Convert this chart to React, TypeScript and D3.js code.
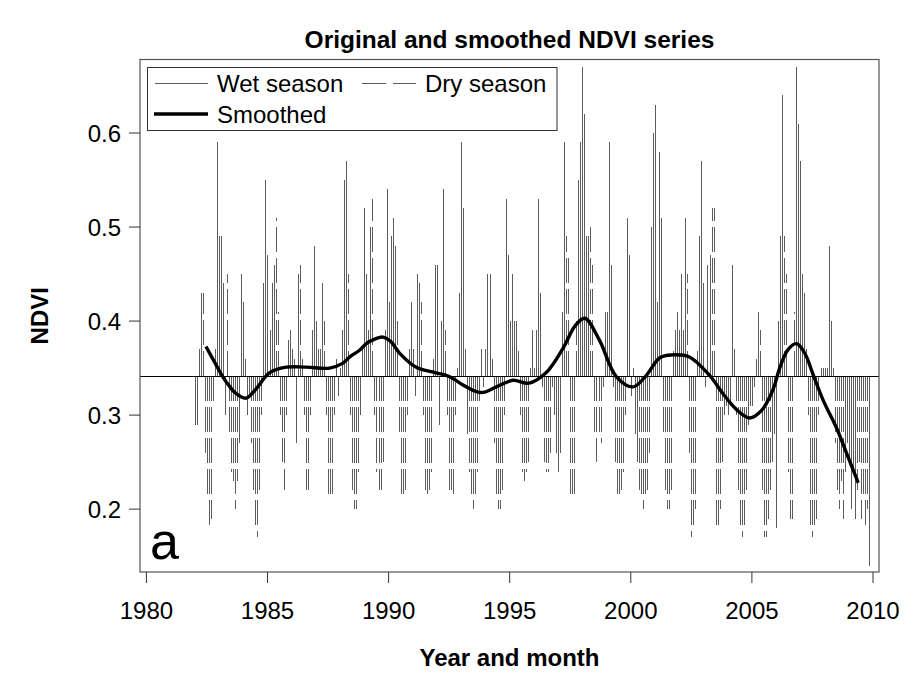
import React from "react";
import * as d3 from "d3";

// ---- data ----
const startYear = 1982;
// monthly NDVI, Jan 1982 .. Nov 2009 (one row per year)
const ndviMonthly: number[] = [
  0.29, 0.29, 0.37, 0.43, 0.43, 0.26, 0.21, 0.18, 0.19, 0.31, 0.37, 0.59, // 1982
  0.49, 0.49, 0.44, 0.30, 0.45, 0.28, 0.24, 0.23, 0.20, 0.23, 0.27, 0.45, // 1983
  0.42, 0.36, 0.30, 0.32, 0.27, 0.22, 0.18, 0.17, 0.22, 0.30, 0.44, 0.55, // 1984
  0.47, 0.39, 0.44, 0.46, 0.51, 0.41, 0.30, 0.25, 0.22, 0.30, 0.38, 0.39, // 1985
  0.37, 0.36, 0.27, 0.45, 0.46, 0.36, 0.30, 0.22, 0.22, 0.30, 0.39, 0.48, // 1986
  0.40, 0.37, 0.37, 0.44, 0.40, 0.30, 0.21, 0.21, 0.21, 0.30, 0.36, 0.32, // 1987
  0.35, 0.39, 0.55, 0.57, 0.45, 0.30, 0.22, 0.20, 0.20, 0.24, 0.30, 0.37, // 1988
  0.52, 0.45, 0.39, 0.50, 0.53, 0.30, 0.24, 0.22, 0.22, 0.25, 0.39, 0.54, // 1989
  0.42, 0.49, 0.51, 0.48, 0.40, 0.28, 0.21, 0.21, 0.22, 0.30, 0.37, 0.42, // 1990
  0.37, 0.32, 0.45, 0.44, 0.42, 0.30, 0.22, 0.21, 0.22, 0.24, 0.36, 0.46, // 1991
  0.46, 0.29, 0.40, 0.54, 0.39, 0.30, 0.22, 0.22, 0.21, 0.30, 0.35, 0.43, // 1992
  0.59, 0.52, 0.37, 0.28, 0.24, 0.21, 0.20, 0.21, 0.24, 0.31, 0.37, 0.33, // 1993
  0.37, 0.45, 0.45, 0.36, 0.27, 0.21, 0.20, 0.20, 0.22, 0.30, 0.53, 0.47, // 1994
  0.40, 0.45, 0.40, 0.40, 0.37, 0.30, 0.24, 0.23, 0.24, 0.25, 0.35, 0.39, // 1995
  0.35, 0.39, 0.53, 0.43, 0.33, 0.25, 0.24, 0.24, 0.26, 0.33, 0.30, 0.26, // 1996
  0.24, 0.26, 0.41, 0.59, 0.49, 0.47, 0.21, 0.21, 0.21, 0.40, 0.55, 0.59, // 1997
  0.67, 0.62, 0.49, 0.49, 0.50, 0.46, 0.28, 0.25, 0.28, 0.27, 0.33, 0.41, // 1998
  0.41, 0.59, 0.46, 0.33, 0.25, 0.21, 0.21, 0.22, 0.24, 0.30, 0.51, 0.47, // 1999
  0.32, 0.35, 0.28, 0.25, 0.22, 0.21, 0.20, 0.21, 0.22, 0.26, 0.50, 0.60, // 2000
  0.63, 0.42, 0.58, 0.51, 0.28, 0.22, 0.20, 0.20, 0.22, 0.37, 0.39, 0.41, // 2001
  0.39, 0.45, 0.39, 0.51, 0.45, 0.26, 0.17, 0.18, 0.20, 0.37, 0.49, 0.57, // 2002
  0.44, 0.33, 0.46, 0.47, 0.52, 0.52, 0.18, 0.18, 0.20, 0.25, 0.30, 0.31, // 2003
  0.30, 0.31, 0.46, 0.37, 0.30, 0.22, 0.18, 0.17, 0.18, 0.22, 0.29, 0.31, // 2004
  0.31, 0.33, 0.36, 0.41, 0.39, 0.22, 0.17, 0.17, 0.19, 0.22, 0.25, 0.28, // 2005
  0.18, 0.40, 0.49, 0.64, 0.49, 0.45, 0.24, 0.19, 0.19, 0.41, 0.67, 0.61, // 2006
  0.57, 0.45, 0.43, 0.37, 0.30, 0.18, 0.17, 0.18, 0.19, 0.30, 0.35, 0.35, // 2007
  0.35, 0.35, 0.48, 0.40, 0.35, 0.27, 0.22, 0.20, 0.23, 0.19, 0.24, 0.27, // 2008
  0.25, 0.20, 0.24, 0.19, 0.22, 0.25, 0.19, 0.21, 0.18, 0.20, 0.14,       // 2009
];
// dry season months (0 = January)
const dryMonths = [4, 5, 6, 7, 8, 9];
const meanNDVI = 0.342;

// smoothed series (time, value)
const smoothYears = [
  1982.46, 1982.8, 1983.15, 1983.45, 1983.7, 1984.1, 1984.5, 1985.08, 1985.77, 1986.6,
  1987.56, 1988.1, 1988.4, 1988.8, 1989.08, 1989.45, 1989.76, 1990.1, 1990.45, 1991.14,
  1991.96, 1992.5, 1993.21, 1993.83, 1994.45, 1995.13, 1995.8, 1996.5, 1997.2, 1997.7,
  1998.1, 1998.7, 1999.4, 2000.1, 2000.6, 2001.2, 2001.7, 2002.4, 2003.26, 2003.8,
  2004.4, 2004.92, 2005.4, 2005.87, 2006.16, 2006.5, 2006.85, 2007.2, 2007.5, 2007.94,
  2008.5, 2008.9, 2009.39,
];
const smoothValues = [
  0.373, 0.357, 0.341, 0.330, 0.323, 0.318, 0.327, 0.345, 0.351, 0.351,
  0.350, 0.355, 0.362, 0.369, 0.376, 0.381, 0.383, 0.378, 0.366, 0.351,
  0.345, 0.341, 0.330, 0.324, 0.330, 0.337, 0.334, 0.345, 0.371, 0.395,
  0.403, 0.380, 0.341, 0.330, 0.341, 0.361, 0.364, 0.362, 0.342, 0.323,
  0.305, 0.297, 0.305, 0.327, 0.351, 0.370, 0.376, 0.365, 0.345, 0.316,
  0.286, 0.260, 0.228,
];

const xTicks = [1980, 1985, 1990, 1995, 2000, 2005, 2010];
const yTicks = [0.2, 0.3, 0.4, 0.5, 0.6];
const legendLabels = ["Wet season", "Dry season", "Smoothed"];

const W = 906;
const H = 686;
const plot = { left: 140, right: 879, top: 59.5, bottom: 572 };
const FONT = "'Liberation Sans', Arial, Helvetica, sans-serif";
const GREY = "#5c5c5c";
const DASH = "25 6";

export default function App() {
  const x = d3.scaleLinear().domain([1979.736, 2010.248]).range([plot.left, plot.right]);
  const y = d3.scaleLinear().domain([0.13314, 0.67819]).range([plot.bottom, plot.top]);

  const bars = ndviMonthly.map((v, i) => {
    const t = startYear + i / 12;
    const month = i % 12;
    return { t, v, dry: dryMonths.includes(month) };
  });

  const smoothPts: [number, number][] = smoothYears.map((t, i) => [t, smoothValues[i]]);
  const line = d3
    .line<[number, number]>()
    .x((d) => x(d[0]))
    .y((d) => y(d[1]))
    .curve(d3.curveCatmullRom.alpha(0.5));

  const yBase = y(meanNDVI);

  return (
    <div style={{ position: "fixed", left: 0, top: 0, width: W, height: H, background: "#fff" }}>
      <svg width={W} height={H} style={{ display: "block" }} fontFamily={FONT}>
        <rect x={0} y={0} width={W} height={H} fill="#fff" />
        {/* title */}
        <text x={(plot.left + plot.right) / 2} y={48} textAnchor="middle" fontSize={24.5} fontWeight="bold">
          Original and smoothed NDVI series
        </text>

        {/* bars */}
        <g shapeRendering="crispEdges">
          {bars.map((b, i) => {
            const xx = Math.round(x(b.t)) + 0.5;
            return (
              <line
                key={i}
                x1={xx}
                x2={xx}
                y1={yBase}
                y2={y(b.v)}
                stroke={GREY}
                strokeWidth={1}
                strokeDasharray={b.dry ? DASH : undefined}
              />
            );
          })}
        </g>

        {/* mean line */}
        <line x1={plot.left} x2={plot.right} y1={Math.round(yBase) + 0.5} y2={Math.round(yBase) + 0.5} stroke="#000" strokeWidth={1} />

        {/* smoothed */}
        <path d={line(smoothPts) || ""} fill="none" stroke="#000" strokeWidth={3.4} strokeLinejoin="round" />

        {/* box */}
        <rect
          x={plot.left}
          y={plot.top}
          width={plot.right - plot.left}
          height={plot.bottom - plot.top}
          fill="none"
          stroke="#555"
          strokeWidth={1.2}
        />

        {/* x axis */}
        {xTicks.map((t) => (
          <g key={t}>
            <line x1={x(t)} x2={x(t)} y1={plot.bottom} y2={plot.bottom + 11} stroke="#333" strokeWidth={1} />
            <text x={x(t)} y={619} textAnchor="middle" fontSize={24}>
              {t}
            </text>
          </g>
        ))}
        {/* y axis */}
        {yTicks.map((v) => (
          <g key={v}>
            <line x1={plot.left - 11} x2={plot.left} y1={y(v)} y2={y(v)} stroke="#333" strokeWidth={1} />
            <text x={121} y={y(v) + 8.5} textAnchor="end" fontSize={24}>
              {v.toFixed(1)}
            </text>
          </g>
        ))}

        {/* axis titles */}
        <text x={(plot.left + plot.right) / 2} y={666} textAnchor="middle" fontSize={24} fontWeight="bold">
          Year and month
        </text>
        <text
          transform={`translate(48, ${(plot.top + plot.bottom) / 2}) rotate(-90)`}
          textAnchor="middle"
          fontSize={24}
          fontWeight="bold"
        >
          NDVI
        </text>

        {/* panel letter */}
        <text x={150} y={559} fontSize={52}>
          a
        </text>

        {/* legend */}
        <rect x={147.5} y={67.5} width={409.5} height={63} fill="#fff" stroke="#333" strokeWidth={1} />
        <line x1={155} x2={208} y1={83.5} y2={83.5} stroke={GREY} strokeWidth={1.2} />
        <text x={217} y={92} fontSize={24}>
          {legendLabels[0]}
        </text>
        <line x1={362} x2={416} y1={83.5} y2={83.5} stroke={GREY} strokeWidth={1.2} strokeDasharray="24 7" />
        <text x={425} y={92} fontSize={24}>
          {legendLabels[1]}
        </text>
        <line x1={154} x2={208} y1={114} y2={114} stroke="#000" strokeWidth={3.4} />
        <text x={217} y={122.5} fontSize={24}>
          {legendLabels[2]}
        </text>
      </svg>
    </div>
  );
}
